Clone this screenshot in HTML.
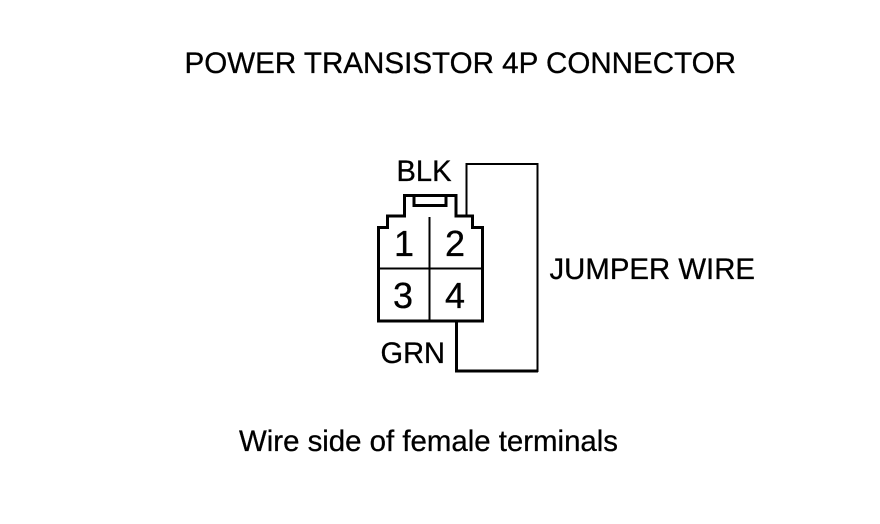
<!DOCTYPE html>
<html>
<head>
<meta charset="utf-8">
<style>
html,body{margin:0;padding:0;background:#fff;width:880px;height:524px;overflow:hidden}
svg{display:block}
text{font-family:"Liberation Sans",Arial,sans-serif;fill:#000;font-size:30px;stroke:#000;stroke-width:.3px}
</style>
</head>
<body>
<svg width="880" height="524" viewBox="0 0 880 524" xmlns="http://www.w3.org/2000/svg">
<rect width="880" height="524" fill="#fff"/>
<text x="184.5" y="73" textLength="551.5" lengthAdjust="spacingAndGlyphs">POWER TRANSISTOR 4P CONNECTOR</text>
<text x="396.5" y="181" textLength="55" lengthAdjust="spacingAndGlyphs">BLK</text>
<text x="549.5" y="279" textLength="205.5" lengthAdjust="spacingAndGlyphs">JUMPER WIRE</text>
<text x="380.5" y="363" textLength="64.5" lengthAdjust="spacingAndGlyphs">GRN</text>
<text x="239" y="451" textLength="379" lengthAdjust="spacingAndGlyphs">Wire side of female terminals</text>
<text x="394" y="256" style="font-size:36px">1</text>
<text x="445" y="256" style="font-size:36px">2</text>
<text x="393" y="308" style="font-size:36px">3</text>
<text x="445" y="308" style="font-size:36px">4</text>
<g fill="none" stroke="#000" shape-rendering="crispEdges">
<path d="M378.5 321V227.5H387.5V216H404.5V195.5H456V216H472.5V227.5H482.5V321Z" stroke-width="3"/>
<path d="M414 196V205.5H446V196" stroke-width="3"/>
<path d="M429.5 217V320" stroke-width="2"/>
<path d="M379 268.5H482" stroke-width="2"/>
<path d="M466.5 216V164H537.5V372" stroke-width="2"/>
<path d="M456.5 322V371H538" stroke-width="3"/>
</g>
</svg>
</body>
</html>
